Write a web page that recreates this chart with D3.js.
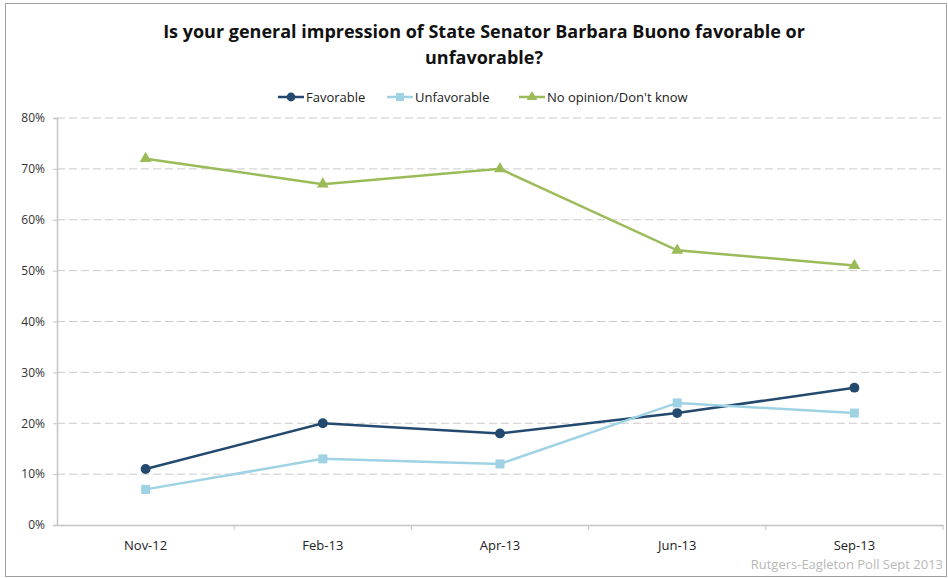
<!DOCTYPE html>
<html><head><meta charset="utf-8">
<script src="https://cdn.jsdelivr.net/npm/d3@7"></script>
<style>body{margin:0;background:#fff}svg{display:block}</style>
</head><body>
<svg id="c" width="948" height="578"></svg>
<script>
const categories = ["Nov-12","Feb-13","Apr-13","Jun-13","Sep-13"];
const favorable = [11,20,18,22,27];
const unfavorable = [7,13,12,24,22];
const noOpinion = [72,67,70,54,51];
const yTicks = [0,10,20,30,40,50,60,70,80];
const seriesNames = ["Favorable","Unfavorable","No opinion/Don't know"];
const titleLines = ["Is your general impression of State Senator Barbara Buono favorable or","unfavorable?"];
const sourceText = "Rutgers-Eagleton Poll Sept 2013";

const font = "'Open Sans',Arial,sans-serif";
const series = [
  {name:seriesNames[0], values:favorable, color:"#24496f", marker:"circle"},
  {name:seriesNames[1], values:unfavorable, color:"#9fd3e4", marker:"square"},
  {name:seriesNames[2], values:noOpinion, color:"#9bbb59", marker:"triangle"}
];
const svg = d3.select("#c");
svg.append("rect").attr("x",5.5).attr("y",3.5).attr("width",941).attr("height",573)
  .attr("fill","#fff").attr("stroke","#a0a0a0");

const L=57,R=943,T=118,B=525;
const x = d3.scaleBand().domain(categories).range([L,R]);
const y = d3.scaleLinear().domain([0,80]).range([B,T]);

// title
svg.append("g").selectAll("text").data(titleLines).join("text")
  .attr("x",484).attr("y",(d,i)=>38+i*26).attr("text-anchor","middle")
  .attr("font-family",font).attr("font-weight","bold").attr("font-size",18).attr("fill","#111")
  .text(d=>d);

// grid
svg.append("g").selectAll("line").data(yTicks.filter(d=>d>0)).join("line")
  .attr("x1",L).attr("x2",R).attr("y1",d=>y(d)).attr("y2",d=>y(d))
  .attr("stroke","#cbcbcb").attr("stroke-dasharray","8,4");

// y axis
const ya = svg.append("g").attr("transform",`translate(${L},0)`)
  .call(d3.axisLeft(y).tickValues(yTicks).tickFormat(d=>d+"%").tickSize(4).tickPadding(8));
ya.select(".domain").attr("stroke","#c4c4c4").attr("stroke-width",1.5);
ya.selectAll(".tick line").attr("stroke","#c4c4c4");
ya.selectAll("text").attr("font-family",font).attr("font-size",12).attr("fill","#333");

// x axis
const xa = svg.append("g").attr("transform",`translate(0,${B})`)
  .call(d3.axisBottom(x).tickSize(0).tickPadding(16));
xa.select(".domain").attr("stroke","#c4c4c4").attr("stroke-width",1.5);
xa.selectAll("text").attr("font-family",font).attr("font-size",13).attr("fill","#222");
const bounds = categories.map(c=>x(c)+x.bandwidth());
xa.append("g").selectAll("line").data(bounds).join("line")
  .attr("x1",d=>d).attr("x2",d=>d).attr("y1",0).attr("y2",5).attr("stroke","#c4c4c4");

function marker(g, type, color, size){
  if(type==="circle") g.append("circle").attr("r",size*0.55).attr("fill",color);
  else if(type==="square") g.append("rect").attr("x",-size/2).attr("y",-size/2).attr("width",size).attr("height",size).attr("fill",color);
  else g.append("path").attr("d",d3.symbol().type(d3.symbolTriangle).size(size*size*0.75)()).attr("fill",color);
}

const line = d3.line().x((d,i)=>x(categories[i])+x.bandwidth()/2).y(d=>y(d));
series.forEach(s=>{
  svg.append("path").datum(s.values).attr("d",line).attr("fill","none")
    .attr("stroke",s.color).attr("stroke-width",2.5);
  s.values.forEach((v,i)=>{
    const g = svg.append("g").attr("transform",`translate(${x(categories[i])+x.bandwidth()/2},${y(v)})`);
    marker(g,s.marker,s.color,9);
  });
});

// legend
const legX = [278,387,519];
series.forEach((s,i)=>{
  const g = svg.append("g").attr("transform",`translate(${legX[i]},97)`);
  g.append("line").attr("x1",0).attr("x2",26).attr("stroke",s.color).attr("stroke-width",2.5);
  const m = g.append("g").attr("transform","translate(13,0)");
  marker(m,s.marker,s.color,8);
  g.append("text").attr("x",28).attr("y",4.5).attr("font-family",font).attr("font-size",13)
    .attr("fill","#222").text(s.name);
});

svg.append("text").attr("x",943).attr("y",569).attr("text-anchor","end")
  .attr("font-family",font).attr("font-size",13).attr("fill","#b8b8b8").text(sourceText);
</script>
</body></html>
